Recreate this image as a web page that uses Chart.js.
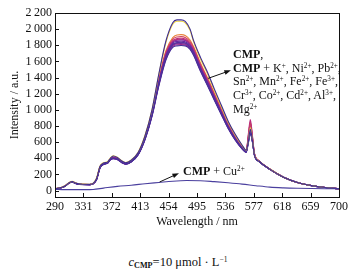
<!DOCTYPE html>
<html>
<head>
<meta charset="utf-8">
<script src="https://cdn.jsdelivr.net/npm/chart.js@4/dist/chart.umd.min.js"></script>
<style>
  body { margin: 0; background: #fff; }
  #wrap { position: relative; width: 356px; height: 271px; font-family: 'Liberation Serif', serif; color: #111; }
  #plot { position: absolute; left: 0; top: 0; width: 356px; height: 235px; }
  .note { position: absolute; font-size: 12px; line-height: 13.7px; white-space: nowrap; }
  .note sup { font-size: 0.6em; vertical-align: 0.5em; line-height: 0; }
  #foot { position: absolute; left: 0; width: 356px; top: 255px; text-align: center; font-size: 12.5px; }
  #foot sub { font-size: 0.65em; vertical-align: -0.3em; line-height: 0; font-weight: bold; }
  #foot sup { font-size: 0.6em; vertical-align: 0.5em; line-height: 0; }
</style>
</head>
<body>
<div id="wrap">
  <div id="plot"><canvas id="spectra"></canvas></div>
  <div class="note" style="left:233px;top:48px;">
    <b>CMP</b>,<br>
    <b>CMP</b> + K<sup>+</sup>, Ni<sup>2+</sup>, Pb<sup>2+</sup>,<br>
    Sn<sup>2+</sup>, Mn<sup>2+</sup>, Fe<sup>2+</sup>, Fe<sup>3+</sup>,<br>
    Cr<sup>3+</sup>, Co<sup>2+</sup>, Cd<sup>2+</sup>, Al<sup>3+</sup>,<br>
    Mg<sup>2+</sup>
  </div>
  <div class="note" style="left:183px;top:165px;"><b>CMP</b> + Cu<sup>2+</sup></div>
  <div id="foot"><i>c</i><sub>CMP</sub>=10 μmol · L<sup>−1</sup></div>
</div>
<script>
// wavelength grid (nm)
const wavelengths = [290,300,305,310,315,320,330,340,345,350,355,360,366,370,374,380,386,392,400,410,
  420,430,440,450,460,466,472,478,485,490,500,510,520,530,540,550,560,566,569,572,
  575,578,585,600,620,640,660,680,700];

// emission spectra
const cmpOnly = [22,40,60,95,112,92,78,76,88,150,300,340,355,400,428,410,370,345,375,470,
  680,1000,1450,1850,2080,2115,2115,2095,2000,1860,1650,1470,1260,1060,860,700,565,500,600,760,
  620,440,360,265,165,100,62,38,22];
const withK = [24,42,62,97,114,94,80,78,90,155,305,345,360,405,432,414,372,348,378,475,
  685,1000,1440,1830,2060,2098,2098,2078,1985,1845,1630,1450,1240,1040,845,690,560,498,610,780,
  630,445,362,266,166,100,62,38,22];
const withNi = [22,40,60,94,110,90,76,75,86,145,295,335,350,395,418,400,362,338,368,462,
  670,975,1390,1730,1895,1928,1932,1922,1865,1785,1580,1400,1210,1020,830,675,550,490,640,820,
  650,450,365,267,166,100,62,38,22];
const withPb = [22,40,60,94,110,90,76,75,86,145,295,335,350,392,412,398,360,336,366,460,
  665,965,1375,1710,1875,1903,1907,1897,1845,1770,1565,1385,1195,1005,820,668,546,488,660,850,
  660,455,365,267,166,100,62,38,22];
const withSn = [21,39,59,93,108,89,75,74,85,142,290,332,348,390,408,395,358,334,364,456,
  660,958,1360,1695,1857,1883,1887,1879,1825,1750,1548,1370,1180,992,810,660,540,485,690,880,
  680,460,366,267,166,100,62,38,22];
const withMn = [21,39,59,93,108,89,75,74,85,142,290,331,347,389,406,393,357,333,363,454,
  658,954,1355,1688,1849,1871,1874,1867,1815,1741,1540,1362,1172,986,805,656,538,484,670,840,
  665,455,364,266,165,100,62,38,22];
const withFe2 = [21,39,59,93,108,89,75,74,85,140,288,330,346,388,405,392,356,332,362,452,
  655,950,1350,1680,1840,1863,1867,1859,1807,1733,1532,1355,1165,980,800,652,535,482,620,760,
  630,445,362,265,165,100,62,38,22];
const withFe3 = [20,38,58,92,106,88,74,73,84,138,285,328,344,386,402,390,354,330,360,450,
  650,945,1340,1665,1827,1848,1852,1845,1795,1720,1520,1342,1155,970,792,646,530,480,600,730,
  615,440,360,264,165,100,62,38,22];
const withCr = [20,38,58,92,106,88,74,73,84,138,285,327,343,385,400,388,352,329,358,448,
  645,938,1330,1652,1813,1833,1837,1831,1781,1707,1508,1330,1145,962,785,640,526,478,590,710,
  605,436,358,263,164,99,61,37,22];
const withCo = [20,38,58,92,106,88,74,73,84,137,284,326,342,384,399,387,351,328,357,447,
  642,934,1325,1645,1805,1826,1830,1824,1775,1701,1502,1324,1140,958,781,637,524,477,600,725,
  608,437,358,263,164,99,61,37,22];
const withCd = [20,38,58,91,105,87,74,73,84,136,282,325,342,384,398,386,350,328,356,446,
  640,930,1320,1638,1799,1818,1822,1817,1769,1695,1496,1318,1135,955,778,635,522,476,610,740,
  612,438,358,263,164,99,61,37,22];
const withAl = [20,38,58,91,105,87,74,73,84,136,282,324,341,383,396,385,349,327,355,444,
  636,924,1310,1626,1787,1806,1810,1805,1759,1685,1486,1310,1128,948,772,630,519,474,640,790,
  640,446,360,264,164,99,61,37,22];
const withMg = [19,37,57,90,104,86,73,72,83,134,280,322,340,382,395,384,348,326,354,442,
  632,918,1300,1614,1775,1793,1797,1793,1749,1675,1478,1302,1120,942,768,626,516,472,580,700,
  600,434,356,262,163,99,61,37,22];

const cuWavelengths = [290,300,320,340,345,360,380,400,420,440,460,480,500,520,540,560,580,600,620,640,660,680,700];
const withCu = [15,12,11,11,13,30,52,66,84,100,116,124,122,110,96,80,60,42,33,28,25,23,22];

const xTicks = [290,331,372,413,454,495,536,577,618,659,700];
const yTicks = [0,200,400,600,800,1000,1200,1400,1600,1800,2000,2200];

function pts(xs, ys) {
    return xs.map((x, i) => ({ x: x, y: ys[i] }));
}

function line(label, xs, ys, color) {
    return {
        label: label,
        data: pts(xs, ys),
        borderColor: color,
        borderWidth: 1.1,
        pointRadius: 0,
        fill: false,
        cubicInterpolationMode: 'monotone'
    };
}

// first dataset is painted last (on top)
const datasets = [
    line('CMP + Cu2+', cuWavelengths, withCu, '#4a3f9e'),
    line('CMP', wavelengths, cmpOnly, '#3d2c92'),
    line('CMP + K+', wavelengths, withK, '#ecd23c'),
    line('CMP + Mg2+', wavelengths, withMg, '#46309a'),
    line('CMP + Cr3+', wavelengths, withCr, '#55309c'),
    line('CMP + Fe3+', wavelengths, withFe3, '#6a28a0'),
    line('CMP + Co2+', wavelengths, withCo, '#6e2c9c'),
    line('CMP + Cd2+', wavelengths, withCd, '#7c2498'),
    line('CMP + Fe2+', wavelengths, withFe2, '#8b2a9c'),
    line('CMP + Al3+', wavelengths, withAl, '#9c2c8c'),
    line('CMP + Mn2+', wavelengths, withMn, '#c63a6c'),
    line('CMP + Sn2+', wavelengths, withSn, '#b72c7e'),
    line('CMP + Pb2+', wavelengths, withPb, '#d2455c'),
    line('CMP + Ni2+', wavelengths, withNi, '#e8823a')
];

// arrows from the curves to the notes, in data units
const arrows = [
    { from: [511, 1390], to: [544, 1490] },
    { from: [441, 106], to: [469, 215] }
];

const frame = {
    id: 'frame',
    afterDraw(chart) {
        const { ctx, chartArea: a, scales } = chart;
        ctx.save();
        ctx.strokeStyle = '#111';
        ctx.lineWidth = 1;
        ctx.strokeRect(a.left + 0.5, a.top + 0.5, a.right - a.left, a.bottom - a.top);
        ctx.beginPath();
        xTicks.forEach(v => {
            const px = Math.round(scales.x.getPixelForValue(v)) + 0.5;
            ctx.moveTo(px, a.bottom);
            ctx.lineTo(px, a.bottom - 4);
        });
        yTicks.forEach(v => {
            const py = Math.round(scales.y.getPixelForValue(v)) + 0.5;
            ctx.moveTo(a.left, py);
            ctx.lineTo(a.left + 4, py);
        });
        ctx.stroke();

        ctx.fillStyle = '#111';
        arrows.forEach(ar => {
            const x1 = scales.x.getPixelForValue(ar.from[0]);
            const y1 = scales.y.getPixelForValue(ar.from[1]);
            const x2 = scales.x.getPixelForValue(ar.to[0]);
            const y2 = scales.y.getPixelForValue(ar.to[1]);
            const ang = Math.atan2(y2 - y1, x2 - x1);
            ctx.beginPath();
            ctx.moveTo(x1, y1);
            ctx.lineTo(x2 - 4 * Math.cos(ang), y2 - 4 * Math.sin(ang));
            ctx.stroke();
            ctx.beginPath();
            ctx.moveTo(x2, y2);
            ctx.lineTo(x2 - 7 * Math.cos(ang - 0.35), y2 - 7 * Math.sin(ang - 0.35));
            ctx.lineTo(x2 - 7 * Math.cos(ang + 0.35), y2 - 7 * Math.sin(ang + 0.35));
            ctx.closePath();
            ctx.fill();
        });
        ctx.restore();
    }
};

const serif = { family: "'Liberation Serif', 'Times New Roman', serif", size: 12 };

new Chart(document.getElementById('spectra').getContext('2d'), {
    type: 'line',
    data: { datasets: datasets },
    plugins: [frame],
    options: {
        responsive: true,
        maintainAspectRatio: false,
        animation: false,
        layout: { padding: { top: 13, right: 17, left: 0, bottom: 0 } },
        plugins: { legend: { display: false }, tooltip: { enabled: false } },
        scales: {
            x: {
                type: 'linear',
                min: 290,
                max: 700,
                afterBuildTicks: s => { s.ticks = xTicks.map(v => ({ value: v })); },
                afterFit: s => { s.height = 38; },
                grid: { display: false, drawTicks: false },
                border: { display: false },
                ticks: { color: '#111', font: serif, padding: 3, maxRotation: 0, autoSkip: false, callback: v => String(v) },
                title: { display: true, text: 'Wavelength / nm', color: '#111', font: serif, padding: { top: 0, bottom: 6 } }
            },
            y: {
                min: -80,
                max: 2200,
                afterBuildTicks: s => { s.ticks = yTicks.map(v => ({ value: v })); },
                afterFit: s => { s.width = 55; },
                grid: { display: false, drawTicks: false },
                border: { display: false },
                ticks: {
                    color: '#111',
                    font: serif,
                    padding: 3,
                    autoSkip: false,
                    callback: v => v >= 1000 ? Math.floor(v / 1000) + '\u2009' + String(v % 1000).padStart(3, '0') : String(v)
                },
                title: { display: true, text: 'Intensity / a.u.', color: '#111', font: serif, padding: { top: 8, bottom: 0 } }
            }
        }
    }
});
</script>
</body>
</html>
